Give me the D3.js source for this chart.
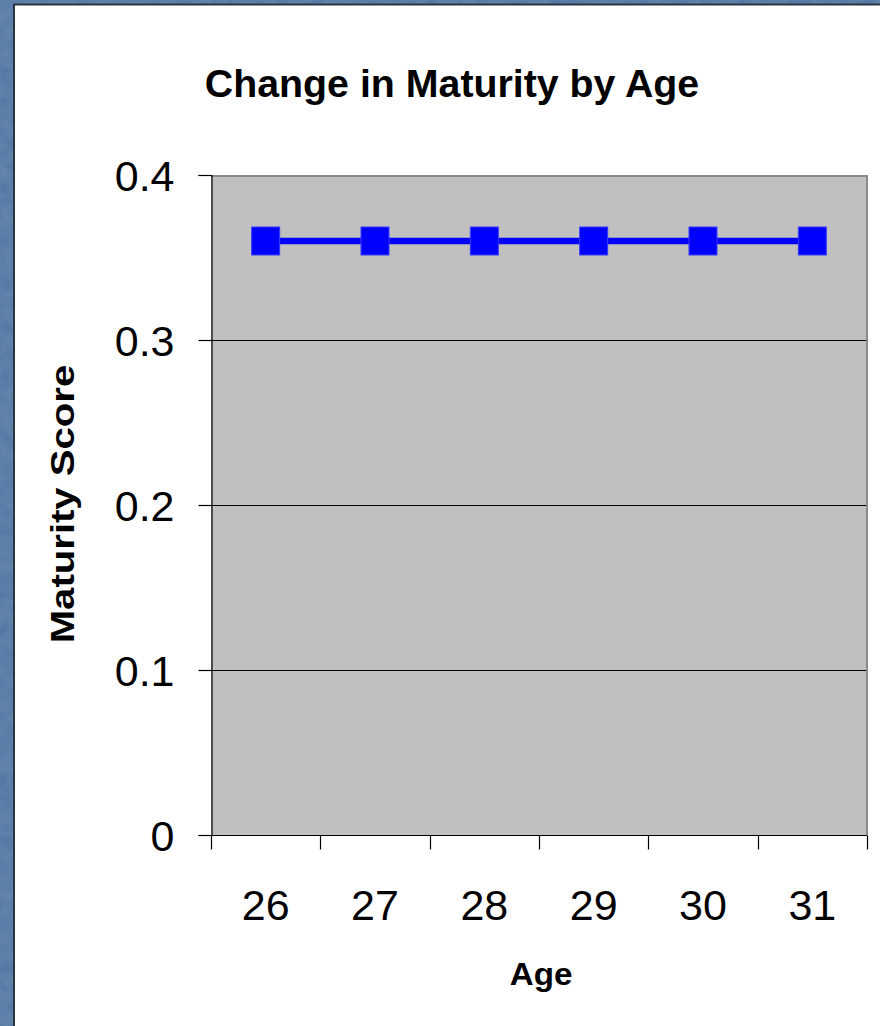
<!DOCTYPE html>
<html>
<head>
<meta charset="utf-8">
<script src="https://cdn.jsdelivr.net/npm/d3@7"></script>
<style>
  html, body { margin: 0; padding: 0; background: #4e74a1; }
  svg { display: block; }
</style>
</head>
<body>
<svg id="chart" width="880" height="1026"></svg>
<script>
// Maturity score recorded at each age
const ages = ["26", "27", "28", "29", "30", "31"];
const maturityScores = [0.36, 0.36, 0.36, 0.36, 0.36, 0.36];
const yTickValues = [0, 0.1, 0.2, 0.3, 0.4];

const svg = d3.select("#chart");
const W = 880, H = 1026;
const font = "Liberation Sans, Arial, sans-serif";

// Slide-style textured blue backdrop
const defs = svg.append("defs");
const filter = defs.append("filter").attr("id", "grain")
  .attr("x", 0).attr("y", 0).attr("width", "100%").attr("height", "100%");
filter.append("feTurbulence").attr("type", "fractalNoise")
  .attr("baseFrequency", 0.08).attr("numOctaves", 2).attr("seed", 3).attr("result", "noise");
filter.append("feColorMatrix").attr("in", "noise").attr("type", "matrix")
  .attr("values", "0 0 0 0 0.31  0 0 0 0 0.46  0 0 0 0 0.64  0 0 0 0.25 0").attr("result", "tint");
filter.append("feComposite").attr("in", "tint").attr("in2", "SourceGraphic").attr("operator", "over");

svg.append("rect").attr("width", W).attr("height", H).attr("fill", "#4e74a1");
svg.append("rect").attr("width", W).attr("height", H).attr("fill", "#4e74a1").attr("filter", "url(#grain)");

// White chart panel
svg.append("rect")
  .attr("x", 14).attr("y", 4.5).attr("width", W).attr("height", H)
  .attr("fill", "#ffffff").attr("stroke", "#2b3440").attr("stroke-width", 2);

const plot = { left: 211, top: 175, right: 867, bottom: 835 };

const x = d3.scaleBand().domain(ages).range([plot.left, plot.right]).padding(0);
const y = d3.scaleLinear().domain([0, 0.4]).range([plot.bottom, plot.top]);

// Plot area
svg.append("rect")
  .attr("x", plot.left).attr("y", plot.top)
  .attr("width", plot.right - plot.left).attr("height", plot.bottom - plot.top)
  .attr("fill", "#c0c0c0");

// Horizontal gridlines
svg.append("g").selectAll("line")
  .data(yTickValues.filter(v => v > 0 && v < 0.4))
  .join("line")
  .attr("x1", plot.left).attr("x2", plot.right)
  .attr("y1", d => Math.round(y(d)) + 0.5).attr("y2", d => Math.round(y(d)) + 0.5)
  .attr("stroke", "#000").attr("stroke-width", 1);

// Top and right frame of the plot area
svg.append("path")
  .attr("d", `M${plot.left},${plot.top + 1}H${plot.right}V${plot.bottom}`)
  .attr("fill", "none").attr("stroke", "#8a8a8a").attr("stroke-width", 2);

// Y axis
const yAxis = svg.append("g")
  .attr("transform", `translate(${plot.left + 0.5},0)`)
  .call(d3.axisLeft(y).tickValues(yTickValues).tickSize(13).tickPadding(24)
    .tickFormat(d => d === 0 ? "0" : d3.format(".1f")(d)));
yAxis.select(".domain").attr("stroke", "#000").attr("stroke-width", 1.2);
yAxis.selectAll(".tick line").attr("stroke", "#000").attr("stroke-width", 1.2);
yAxis.selectAll(".tick text")
  .attr("font-family", font)
  .attr("font-size", 43).attr("fill", "#000").attr("dy", "0.36em");

// X axis: ticks sit at category boundaries, labels at category centres
const xAxisG = svg.append("g").attr("transform", `translate(0,${plot.bottom + 0.5})`);
const boundaries = ages.map(a => x(a)).concat([x(ages[ages.length - 1]) + x.bandwidth()]);
xAxisG.append("line")
  .attr("x1", plot.left).attr("x2", plot.right)
  .attr("stroke", "#000").attr("stroke-width", 1.2);
xAxisG.selectAll("line.tick")
  .data(boundaries)
  .join("line").attr("class", "tick")
  .attr("x1", d => Math.round(d) + 0.5).attr("x2", d => Math.round(d) + 0.5)
  .attr("y1", 0).attr("y2", 14)
  .attr("stroke", "#000").attr("stroke-width", 1.2);
xAxisG.selectAll("text")
  .data(ages)
  .join("text")
  .attr("x", d => x(d) + x.bandwidth() / 2)
  .attr("y", 84)
  .attr("text-anchor", "middle")
  .attr("font-family", font)
  .attr("font-size", 43).attr("fill", "#000")
  .text(d => d);

// Series line and square markers
const line = d3.line()
  .x((d, i) => x(ages[i]) + x.bandwidth() / 2)
  .y(d => y(d));
svg.append("path")
  .datum(maturityScores)
  .attr("d", line)
  .attr("fill", "none").attr("stroke", "#0000ff").attr("stroke-width", 6.5);

const ms = 28;
svg.append("g").selectAll("rect")
  .data(maturityScores)
  .join("rect")
  .attr("x", (d, i) => x(ages[i]) + x.bandwidth() / 2 - ms / 2)
  .attr("y", d => y(d) - ms / 2)
  .attr("width", ms).attr("height", ms)
  .attr("fill", "#0000ff").attr("stroke", "#3a3aff").attr("stroke-width", 1);

// Titles, widened slightly along their run as on the original slide
svg.append("text")
  .attr("transform", "translate(452,97) scale(1.035,1)")
  .attr("text-anchor", "middle")
  .attr("font-family", font).attr("font-weight", "bold").attr("font-size", 38)
  .text("Change in Maturity by Age");

svg.append("text")
  .attr("transform", "translate(541,985) scale(1.07,1)")
  .attr("text-anchor", "middle")
  .attr("font-family", font).attr("font-weight", "bold").attr("font-size", 31)
  .text("Age");

svg.append("text")
  .attr("transform", "translate(74,504) rotate(-90) scale(1.18,1)")
  .attr("text-anchor", "middle")
  .attr("font-family", font).attr("font-weight", "bold").attr("font-size", 34)
  .text("Maturity Score");
</script>
</body>
</html>
